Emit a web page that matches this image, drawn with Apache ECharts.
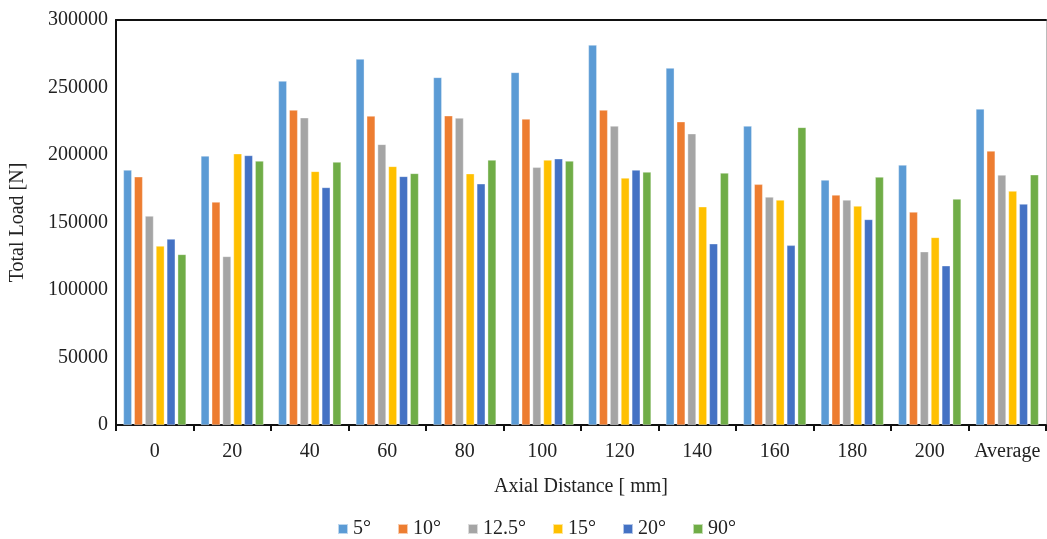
<!DOCTYPE html>
<html>
<head>
<meta charset="utf-8">
<script src="https://cdn.jsdelivr.net/npm/echarts@6/dist/echarts.min.js"></script>
<style>
  html, body { margin: 0; padding: 0; background: #fff; }
  #chart { width: 1047px; height: 539px; }
</style>
</head>
<body>
<div id="chart"></div>
<script>
// Axial distance categories (mm) plus the overall average
const categories = ['0', '20', '40', '60', '80', '100', '120', '140', '160', '180', '200', 'Average'];

// Total load [N] per cone angle
const load5   = [188900, 199300, 254800, 271100, 257500, 261200, 281500, 264400, 221500, 181500, 192600, 234100];
const load10  = [183900, 165200, 233300, 228900, 229100, 226700, 233300, 224700, 178300, 170400, 157800, 203000];
const load125 = [154800, 124900, 227600, 207900, 227400, 190900, 221500, 215800, 168900, 166700, 128400, 185200];
const load15  = [132600, 201000, 187900, 191600, 186200, 196300, 183000, 161700, 166700, 162200, 139000, 173300];
const load20  = [137800, 199700, 176000, 184200, 178700, 197300, 188900, 134300, 133100, 152300, 118000, 163700];
const load90  = [126400, 195600, 194800, 186400, 196300, 195600, 187400, 186700, 220500, 183700, 167400, 185400];

const seriesNames = ['5°', '10°', '12.5°', '15°', '20°', '90°'];
const seriesData = [load5, load10, load125, load15, load20, load90];
const colors = ['#5B9BD5', '#ED7D31', '#A5A5A5', '#FFC000', '#4472C4', '#70AD47'];

const font = 'Liberation Serif, Times New Roman, serif';
const fs = 20;

const chart = echarts.init(document.getElementById('chart'), null, { renderer: 'canvas' });

chart.setOption({
  animation: false,
  color: colors,
  textStyle: { fontFamily: font },
  grid: { left: 116, right: 1, top: 20, bottom: 114, containLabel: false, outerBoundsMode: 'none' },
  legend: {
    top: 514,
    left: 332,
    icon: 'rect',
    itemWidth: 10,
    itemHeight: 10,
    itemGap: 26,
    textStyle: { fontFamily: font, fontSize: fs, color: '#222' },
    data: seriesNames
  },
  xAxis: [{
    type: 'category',
    data: categories,
    name: 'Axial Distance [ mm]',
    nameLocation: 'middle',
    nameGap: 52,
    nameTextStyle: { fontFamily: font, fontSize: fs, color: '#222' },
    axisLine: { onZero: false, lineStyle: { color: '#111', width: 2 } },
    axisTick: { show: true, interval: 0, alignWithLabel: false, length: 6, lineStyle: { color: '#111', width: 2 } },
    axisLabel: { interval: 0, fontFamily: font, fontSize: fs, color: '#222', margin: 17 },
    splitLine: { show: false }
  }, {
    type: 'category',
    data: categories,
    position: 'top',
    axisLine: { onZero: false, lineStyle: { color: '#111', width: 2 } },
    axisTick: { show: false },
    axisLabel: { show: false }
  }],
  yAxis: [{
    type: 'value',
    min: 0,
    max: 300000,
    interval: 50000,
    name: 'Total Load [N]',
    nameLocation: 'middle',
    nameGap: 88,
    nameTextStyle: { fontFamily: font, fontSize: fs, color: '#222' },
    axisLine: { show: true, onZero: false, lineStyle: { color: '#111', width: 2 } },
    axisTick: { show: false },
    axisLabel: { fontFamily: font, fontSize: fs, color: '#222', margin: 8, formatter: v => String(v) },
    splitLine: { show: false }
  }, {
    type: 'value',
    min: 0,
    max: 300000,
    interval: 50000,
    position: 'right',
    axisLine: { show: true, onZero: false, lineStyle: { color: '#bbb', width: 1 } },
    axisTick: { show: false },
    axisLabel: { show: false },
    splitLine: { show: false }
  }],
  series: seriesNames.map((name, i) => ({
    name: name,
    type: 'bar',
    data: seriesData[i],
    barGap: '28%',
    barCategoryGap: '19%',
    itemStyle: { color: colors[i], borderColor: 'rgba(255,255,255,0.6)', borderWidth: 0.6 }
  }))
});
</script>
</body>
</html>
